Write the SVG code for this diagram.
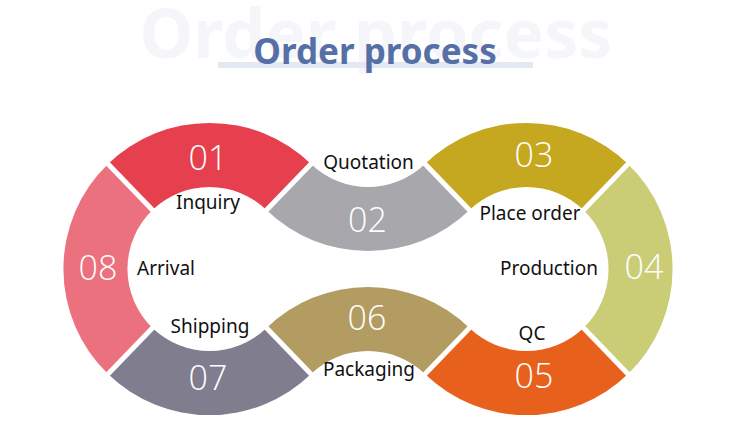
<svg xmlns="http://www.w3.org/2000/svg" width="750" height="447" viewBox="0 0 750 447">
  <style>
    .num { font-family: "Open Sans", "Noto Sans", "Liberation Sans", sans-serif; font-weight: 300; font-size: 34px; fill: #ffffff; text-anchor: middle; }
    .lbl { font-family: "Noto Sans", "Open Sans", "Liberation Sans", sans-serif; font-size: 19px; fill: #111111; text-anchor: middle; }
    .cut { stroke: #ffffff; stroke-width: 5; fill: none; }
  </style>
  <rect width="750" height="447" fill="#ffffff"/>
  <g id="title">
    <text x="376" y="58" text-anchor="middle" font-family="Noto Sans, Open Sans, Liberation Sans, sans-serif" font-weight="700" font-size="68" fill="#f5f6fa">Order process</text>
    <rect x="218" y="62" width="315" height="6" fill="#e4e8f0"/>
    <text x="375" y="64" text-anchor="middle" font-family="Noto Sans, Open Sans, Liberation Sans, sans-serif" font-weight="700" font-size="35" fill="#5670a7">Order process</text>
  </g>
  <g id="step01">
    <path d="M108,163.98 A146,146 0 0 1 311,163.98 L266.51,210.02 A82,82 0 0 0 152.49,210.02 Z" fill="#e6404e"/>
    <text class="num" x="208" y="170">01</text>
    <text class="lbl" x="208" y="209">Inquiry</text>
  </g>
  <g id="step02">
    <path d="M469.5,210 A146,146 0 0 1 266.5,210 L311,164 A82,82 0 0 0 425,164 Z" fill="#a7a7ac"/>
    <text class="num" x="367.5" y="232">02</text>
    <text class="lbl" x="368.5" y="169">Quotation</text>
  </g>
  <g id="step03">
    <path d="M425,163.98 A146,146 0 0 1 628,163.98 L583.51,210.02 A82,82 0 0 0 469.49,210.02 Z" fill="#c5a81f"/>
    <text class="num" x="534" y="167">03</text>
    <text class="lbl" x="530" y="220">Place order</text>
  </g>
  <g id="step04">
    <path d="M628,163.98 A146,146 0 0 1 628,374.02 L583.51,327.98 A82,82 0 0 0 583.51,210.02 Z" fill="#cacd76"/>
    <text class="num" x="644" y="279">04</text>
    <text class="lbl" x="549" y="275">Production</text>
  </g>
  <g id="step05">
    <path d="M628,374.02 A146,146 0 0 1 425,374.02 L469.49,327.98 A82,82 0 0 0 583.51,327.98 Z" fill="#e8611c"/>
    <text class="num" x="534" y="388">05</text>
    <text class="lbl" x="532" y="340">QC</text>
  </g>
  <g id="step06">
    <path d="M266.5,328 A146,146 0 0 1 469.5,328 L425,374 A82,82 0 0 0 311,374 Z" fill="#b29c62"/>
    <text class="num" x="367" y="330">06</text>
    <text class="lbl" x="369" y="376">Packaging</text>
  </g>
  <g id="step07">
    <path d="M311,374.02 A146,146 0 0 1 108,374.02 L152.49,327.98 A82,82 0 0 0 266.51,327.98 Z" fill="#807d8e"/>
    <text class="num" x="208" y="390">07</text>
    <text class="lbl" x="210" y="333">Shipping</text>
  </g>
  <g id="step08">
    <path d="M108,374.02 A146,146 0 0 1 108,163.98 L152.49,210.02 A82,82 0 0 0 152.49,327.98 Z" fill="#ec717e"/>
    <text class="num" x="98" y="280">08</text>
    <text class="lbl" x="166" y="275">Arrival</text>
  </g>
  <g id="connectors">
    <line class="cut" x1="264.4" y1="212.2" x2="313.1" y2="161.8"/>
    <line class="cut" x1="154.6" y1="212.2" x2="105.9" y2="161.8"/>
    <line class="cut" x1="154.6" y1="325.8" x2="105.9" y2="376.2"/>
    <line class="cut" x1="264.4" y1="325.8" x2="313.1" y2="376.2"/>
    <line class="cut" x1="471.6" y1="325.8" x2="422.9" y2="376.2"/>
    <line class="cut" x1="581.4" y1="325.8" x2="630.1" y2="376.2"/>
    <line class="cut" x1="581.4" y1="212.2" x2="630.1" y2="161.8"/>
    <line class="cut" x1="471.6" y1="212.2" x2="422.9" y2="161.8"/>
  </g>
</svg>
